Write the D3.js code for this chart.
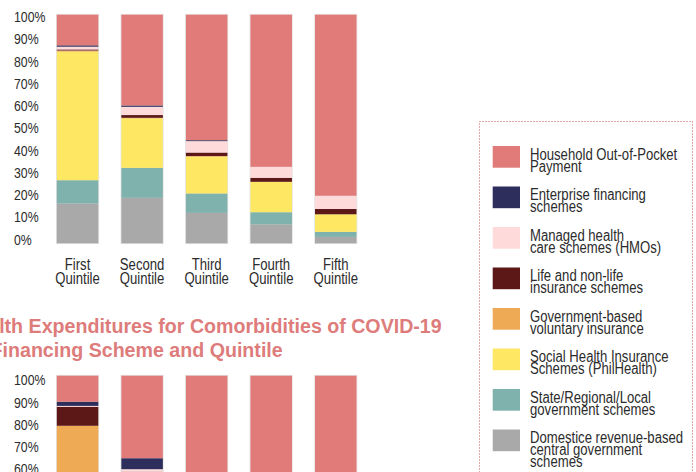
<!DOCTYPE html>
<html><head><meta charset="utf-8">
<script src="https://cdn.jsdelivr.net/npm/d3@7"></script>
<style>
html,body{margin:0;padding:0;background:#fff;overflow:hidden;}
svg{display:block;}
text{font-family:"Liberation Sans",Arial,sans-serif;}
</style></head>
<body>
<svg id="c" width="696" height="472"></svg>
<script>
// ---- data ----
const quintiles = ["First Quintile","Second Quintile","Third Quintile","Fourth Quintile","Fifth Quintile"];
const tickValues = [0,10,20,30,40,50,60,70,80,90,100];
// legend order (top to bottom)
const seriesNames = [
  "Household Out-of-Pocket|Payment",
  "Enterprise financing|schemes",
  "Managed health|care schemes (HMOs)",
  "Life and non-life|insurance schemes",
  "Government-based|voluntary insurance",
  "Social Health Insurance|Schemes (PhilHealth)",
  "State/Regional/Local|government schemes",
  "Domestice revenue-based|central government|schemes"
];
const seriesColors = ["#E17B79","#2D2E5C","#FEDADB","#5C1717","#EFAA56","#FEE762","#7FB2AC","#A9A9A9"];

// top chart (share by financing scheme, %)
const topOOP        = [13.4, 39.7, 54.9, 66.55, 79.2];
const topEnterprise = [0.6, 0.6, 0.4, 0, 0];
const topHMO        = [1.2, 3.6, 5.0, 4.8, 5.8];
const topLife       = [0.45, 1.2, 1.5, 1.75, 2.3];
const topGovVol     = [0.45, 0.2, 0.3, 0, 0];
const topSHI        = [56.3, 21.7, 16.1, 13.3, 7.7];
const topState      = [10.2, 13.1, 8.5, 5.3, 2.2];
const topDomestic   = [17.4, 19.9, 13.3, 8.3, 2.8];

// bottom chart: comorbidities of COVID-19
const botOOP        = [11.4, 36.1, 72, 80, 89];
const botEnterprise = [1.8, 4.8, 0, 0, 0];
const botHMO        = [0.4, 1.1, 0, 0, 0];
const botLife       = [8.3, 2.0, 0, 0, 0];
const botGovVol     = [30.1, 0, 0, 0, 0];
const botSHI        = [30, 38, 14, 10, 6];
const botState      = [6, 8, 6, 4, 2];
const botDomestic   = [12, 10, 8, 6, 3];

const titleLines = ["Health Expenditures for Comorbidities of COVID-19","by Financing Scheme and Quintile"];

// ---- drawing ----
const NARROW = 0.82;
const svg = d3.select("#c");
const keys = ["oop","ent","hmo","life","gov","shi","state","dom"];
const stackOrder = keys.slice().reverse(); // bottom to top

function table(arrs){
  return quintiles.map((q,i)=>{
    const o={q};
    keys.forEach((k,j)=>o[k]=arrs[j][i]);
    return o;
  });
}
const topData = table([topOOP,topEnterprise,topHMO,topLife,topGovVol,topSHI,topState,topDomestic]);
const botData = table([botOOP,botEnterprise,botHMO,botLife,botGovVol,botSHI,botState,botDomestic]);
const color = d3.scaleOrdinal().domain(keys).range(seriesColors);

const x = d3.scaleBand().domain(quintiles).range([56.8,356.5]).paddingInner(0.357).paddingOuter(0);

function drawChart(data, top, labTop, showX){
  const y = d3.scaleLinear().domain([0,100]).range([top+228.6, top]);
  const yl = d3.scaleLinear().domain([0,100]).range([labTop+222.6, labTop]);
  const g = svg.append("g");
  g.selectAll("rect.bg").data(data).join("rect")
    .attr("x", d=>x(d.q)-0.8).attr("width", x.bandwidth()+1.6)
    .attr("y", y(100)-0.8).attr("height", y(0)-y(100)+1.6)
    .attr("fill","#e4e4e4");
  const series = d3.stack().keys(stackOrder)(data);
  g.selectAll("g.s").data(series).join("g")
    .attr("fill", s=>color(s.key))
    .selectAll("rect").data(s=>s).join("rect")
      .attr("x", d=>x(d.data.q)).attr("width", x.bandwidth())
      .attr("y", d=>y(d[1])).attr("height", d=>Math.max(0,y(d[0])-y(d[1])));
  const ax = d3.axisLeft(yl).tickValues(tickValues).tickFormat(d=>d+"%").tickSize(0).tickPadding(0);
  const ag = g.append("g").attr("transform","translate(14,0)").call(ax);
  ag.select(".domain").remove();
  ag.attr("font-family",null).attr("font-size",null);
  ag.selectAll("text").attr("text-anchor","start").attr("x",0)
    .attr("transform",`scale(${NARROW},1)`)
    .attr("font-size",15).attr("fill","#2b2b2b");
  if(showX){
    const xa = d3.axisBottom(x).tickSize(0).tickFormat("");
    const xg = g.append("g").attr("transform",`translate(0,${top+228.6})`).call(xa);
    xg.select(".domain").remove();
    xg.attr("font-family",null);
    xg.selectAll(".tick").each(function(d){
      const t = d3.select(this).append("text").attr("text-anchor","middle")
        .attr("transform",`scale(${NARROW},1)`)
        .attr("font-size",16).attr("fill","#2b2b2b");
      d.split(" ").forEach((w,i)=>t.append("tspan").attr("x",0).attr("y",27+i*13.4).text(w));
    });
  }
}
drawChart(topData, 14.7, 16.7, true);
drawChart(botData, 375.7, 380, false);

// title
const TS = 0.935;
svg.append("text").attr("font-weight","bold").attr("font-size",21)
  .attr("fill","#DD7C7B").attr("text-anchor","end")
  .attr("transform",`translate(441.7,332.7) scale(${TS},1)`).text(titleLines[0]);
svg.append("text").attr("font-weight","bold").attr("font-size",21)
  .attr("fill","#DD7C7B").attr("text-anchor","end")
  .attr("transform",`translate(282.7,356.7) scale(${TS},1)`).text(titleLines[1]);

// legend
svg.append("rect").attr("x",479.5).attr("y",121.5).attr("width",213).attr("height",420)
  .attr("fill","none").attr("stroke","#C9504E").attr("stroke-width",1).attr("stroke-dasharray","1,2");
const lg = svg.append("g").selectAll("g").data(keys).join("g")
  .attr("transform",(d,i)=>`translate(492.7,${146+i*40.5})`);
lg.append("rect").attr("width",27.3).attr("height",21.7).attr("fill",d=>color(d));
lg.append("text").attr("font-size",16).attr("fill","#2b2b2b")
  .attr("transform",`translate(37.3,0) scale(${NARROW},1)`)
  .each(function(d,i){
    seriesNames[i].split("|").forEach((ln,j)=>d3.select(this).append("tspan")
      .attr("x",0).attr("y",13.8+j*12).text(ln));
  });
</script>
</body></html>
